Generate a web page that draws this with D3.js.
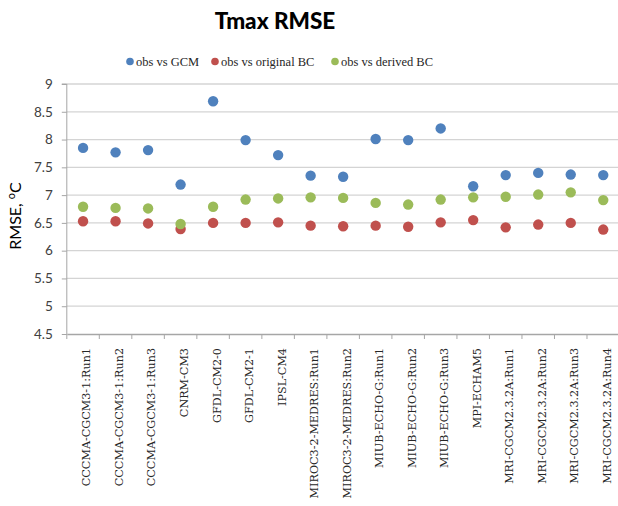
<!DOCTYPE html>
<html><head><meta charset="utf-8">
<script src="https://cdn.jsdelivr.net/npm/d3@7"></script>
<style>body{margin:0;background:#fff}svg{display:block}</style>
</head><body>
<script>
const categories = ["CCCMA-CGCM3-1:Run1","CCCMA-CGCM3-1:Run2","CCCMA-CGCM3-1:Run3","CNRM-CM3","GFDL-CM2-0","GFDL-CM2-1","IPSL-CM4","MIROC3-2-MEDRES:Run1","MIROC3-2-MEDRES:Run2","MIUB-ECHO-G:Run1","MIUB-ECHO-G:Run2","MIUB-ECHO-G:Run3","MPI-ECHAM5","MRI-CGCM2.3.2A:Run1","MRI-CGCM2.3.2A:Run2","MRI-CGCM2.3.2A:Run3","MRI-CGCM2.3.2A:Run4"];
const obsVsGCM = [7.85,7.77,7.81,7.19,8.69,7.99,7.72,7.35,7.33,8.01,7.99,8.20,7.16,7.36,7.40,7.37,7.36];
const obsVsOriginalBC = [6.53,6.53,6.49,6.39,6.50,6.50,6.51,6.45,6.44,6.45,6.43,6.51,6.55,6.42,6.47,6.50,6.38];
const obsVsDerivedBC = [6.79,6.77,6.76,6.48,6.79,6.92,6.94,6.96,6.95,6.86,6.83,6.92,6.96,6.97,7.01,7.05,6.91];
const yTicks = [4.5,5,5.5,6,6.5,7,7.5,8,8.5,9];
const seriesNames = ["obs vs GCM","obs vs original BC","obs vs derived BC"];
const seriesColors = ["#4f81bd","#c0504d","#9bbb59"];
const series = [obsVsGCM, obsVsOriginalBC, obsVsDerivedBC];

const W = 618, H = 506;
const m = {left: 66.8, right: 619.5, top: 84, bottom: 334};
const svg = d3.select("body").append("svg").attr("width", W).attr("height", H);

const x = d3.scaleBand().domain(categories).range([m.left, m.right]);
const y = d3.scaleLinear().domain([4.5, 9]).range([m.bottom, m.top]);

// gridlines
svg.append("g").selectAll("line").data(yTicks.filter(d => d > 4.5)).join("line")
  .attr("x1", m.left).attr("x2", m.right)
  .attr("y1", d => y(d)).attr("y2", d => y(d))
  .attr("stroke", "#d4d4d4").attr("stroke-width", 1.3);

// y axis
const ya = svg.append("g").attr("transform", `translate(${m.left},0)`)
  .call(d3.axisLeft(y).tickValues(yTicks).tickSize(5).tickPadding(9).tickFormat(d => String(d)));
ya.select(".domain").attr("stroke", "#a6a6a6").attr("d", `M-5,${m.top}H0V${m.bottom}`);
ya.selectAll(".tick line").attr("stroke", "#a6a6a6");
ya.selectAll("text").attr("font-family", "Lato, 'Open Sans', sans-serif").attr("font-size", 13.5).attr("fill", "#404040");

// x axis
const xa = svg.append("g").attr("transform", `translate(0,${m.bottom})`)
  .call(d3.axisBottom(x).tickSize(0).tickFormat(d => d));
xa.select(".domain").attr("stroke", "#a6a6a6").attr("stroke-width", 1.3);
xa.selectAll(".tick text")
  .attr("font-family", "'DejaVu Serif', serif").attr("font-size", 11.2).attr("fill", "#262626")
  .attr("text-anchor", "end").attr("transform", "rotate(-90)")
  .attr("x", -14).attr("y", 0).attr("dy", "0.66em");
// boundary ticks
svg.append("g").selectAll("line").data(categories).join("line")
  .attr("x1", d => x(d)).attr("x2", d => x(d))
  .attr("y1", m.bottom).attr("y2", m.bottom + 5)
  .attr("stroke", "#a6a6a6");

// points
series.forEach((vals, si) => {
  svg.append("g").selectAll("circle").data(vals).join("circle")
    .attr("cx", (d, i) => x(categories[i]) + x.bandwidth() / 2)
    .attr("cy", d => y(d))
    .attr("r", 5.2)
    .attr("fill", seriesColors[si]);
});

// title
svg.append("text").attr("x", 275).attr("y", 29).attr("text-anchor", "middle")
  .attr("font-family", "Lato, 'Open Sans', sans-serif").attr("font-weight", 900).attr("font-size", 22.5)
  .attr("fill", "#000").text("Tmax RMSE");

// y title
svg.append("text").attr("transform", "translate(21,216) rotate(-90)").attr("text-anchor", "middle")
  .attr("font-family", "Lato, 'Open Sans', sans-serif").attr("font-size", 16).attr("fill", "#000")
  .call(t => { t.append("tspan").text("RMSE, "); t.append("tspan").attr("dy", -6).attr("font-size", 11).text("o"); t.append("tspan").attr("dy", 6).text("C"); });

// legend
const legX = [130, 215, 335];
const lg = svg.append("g");
seriesNames.forEach((n, i) => {
  lg.append("circle").attr("cx", legX[i]).attr("cy", 61.5).attr("r", 3.8).attr("fill", seriesColors[i]);
  lg.append("text").attr("x", legX[i] + 6).attr("y", 66).attr("font-family", "'Liberation Serif', serif")
    .attr("font-size", 12.5).attr("fill", "#262626").text(n);
});
</script>
</body></html>
